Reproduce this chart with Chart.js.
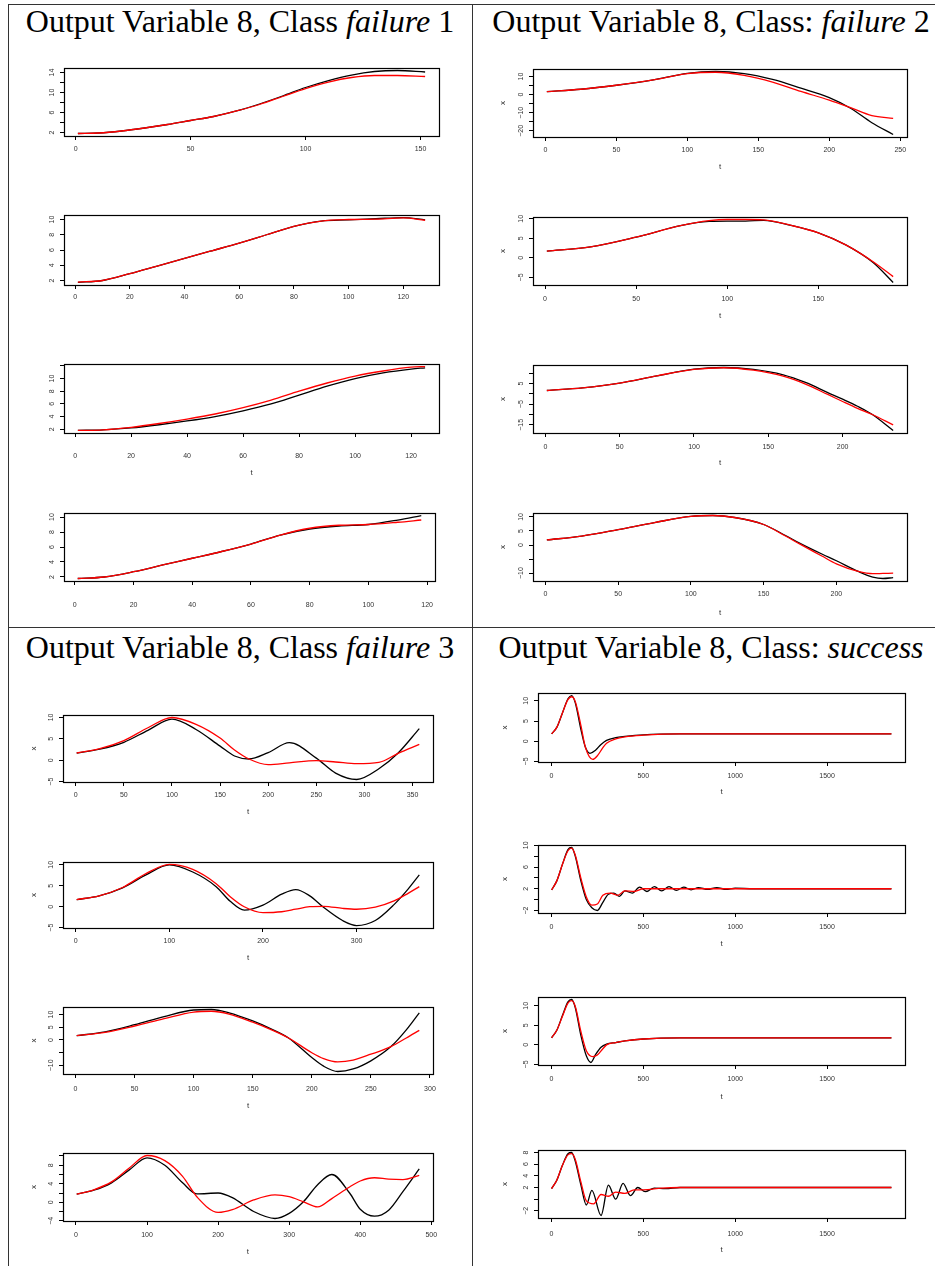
<!DOCTYPE html>
<html lang="en">
<head>
<meta charset="UTF-8">
<title>Output Variable 8</title>
<script src="https://cdn.jsdelivr.net/npm/chart.js"></script>
<style>
  body { margin: 0; background: #fff; }
  #page { position: relative; width: 935px; height: 1266px; overflow: hidden; background: #fff; }
  .rule { position: absolute; background: #333; }
  .title {
    position: absolute; text-align: center; white-space: nowrap;
    font-family: "Liberation Serif", "DejaVu Serif", serif; font-size: 32px; line-height: 1; color: #000;
  }
  canvas { position: absolute; }
</style>
</head>
<body>
<div id="page">
  <div class="rule" style="left:8px;top:4px;width:927px;height:1px"></div>
  <div class="rule" style="left:8px;top:4px;width:1px;height:1262px"></div>
  <div class="rule" style="left:472px;top:4px;width:1px;height:1262px"></div>
  <div class="rule" style="left:8px;top:627px;width:927px;height:1px"></div>
  <div class="title" style="left:8px;top:5px;width:464px">Output Variable 8, Class <i>failure</i> 1</div>
  <div class="title" style="left:480px;top:5px;width:462px">Output Variable 8, Class: <i>failure</i> 2</div>
  <div class="title" style="left:8px;top:631px;width:464px">Output Variable 8, Class <i>failure</i> 3</div>
  <div class="title" style="left:480px;top:631px;width:462px">Output Variable 8, Class: <i>success</i></div>
</div>

<script>
  // ---- failure 1 ----
  const f1a_t = [1, 10, 20, 30, 40, 50, 60, 70, 80, 90, 100, 110, 120, 130, 140, 152];
  const f1a_black = [1.8, 1.9, 2.3, 2.9, 3.6, 4.4, 5.2, 6.3, 7.7, 9.3, 11.0, 12.4, 13.5, 14.2, 14.4, 14.1];
  const f1a_red = [1.8, 1.9, 2.3, 2.9, 3.6, 4.4, 5.2, 6.3, 7.6, 9.2, 10.8, 12.1, 13.0, 13.4, 13.4, 13.2];
  const f1a_xticks = [0, 50, 100, 150];
  const f1a_yticks = [2, 4, 6, 8, 10, 12, 14];
  const f1a_ylabels = ['2', '', '6', '', '10', '', '14'];

  const f1b_t = [1, 10, 20, 30, 40, 50, 60, 70, 80, 90, 100, 110, 120, 128];
  const f1b_black = [1.75, 2.0, 2.9, 3.9, 4.9, 5.9, 6.9, 8.0, 9.1, 9.8, 9.95, 10.1, 10.25, 9.95];
  const f1b_red = [1.8, 2.0, 2.9, 3.9, 4.9, 5.9, 6.9, 8.0, 9.1, 9.8, 10.0, 10.05, 10.2, 9.9];
  const f1b_xticks = [0, 20, 40, 60, 80, 100, 120];
  const f1b_yticks = [2, 4, 6, 8, 10];
  const f1b_ylabels = ['2', '4', '6', '8', '10'];

  const f1c_t = [1, 10, 20, 30, 40, 50, 60, 70, 80, 90, 100, 110, 120, 125];
  const f1c_black = [1.8, 1.9, 2.2, 2.7, 3.3, 4.0, 4.9, 6.0, 7.4, 8.8, 10.0, 10.9, 11.5, 11.7];
  const f1c_red = [1.8, 1.9, 2.3, 2.9, 3.6, 4.4, 5.4, 6.6, 8.0, 9.3, 10.4, 11.2, 11.8, 11.9];
  const f1c_xticks = [0, 20, 40, 60, 80, 100, 120];
  const f1c_yticks = [2, 4, 6, 8, 10, 12];
  const f1c_ylabels = ['2', '4', '6', '8', '10', ''];

  const f1d_t = [1, 10, 20, 30, 40, 50, 60, 70, 80, 90, 100, 110, 118];
  const f1d_black = [1.8, 2.0, 2.7, 3.6, 4.5, 5.4, 6.4, 7.6, 8.4, 8.8, 9.0, 9.6, 10.2];
  const f1d_red = [1.8, 2.0, 2.7, 3.6, 4.5, 5.4, 6.4, 7.6, 8.5, 8.9, 9.0, 9.3, 9.6];
  const f1d_xticks = [0, 20, 40, 60, 80, 100, 120];
  const f1d_yticks = [2, 4, 6, 8, 10];
  const f1d_ylabels = ['2', '4', '6', '8', '10'];

  // ---- failure 2 ----
  const f2a_t = [1, 25, 50, 75, 100, 120, 140, 160, 180, 200, 215, 230, 245];
  const f2a_black = [1.7, 3.0, 5.2, 8.0, 11.8, 12.8, 11.6, 8.4, 3.6, -1.6, -7.5, -15.5, -22.0];
  const f2a_red = [1.7, 3.0, 5.2, 8.0, 11.6, 12.4, 10.7, 7.0, 1.8, -3.0, -7.2, -11.6, -13.1];
  const f2a_xticks = [0, 50, 100, 150, 200, 250];
  const f2a_yticks = [-20, -15, -10, -5, 0, 5, 10];
  const f2a_ylabels = ['\u221220', '', '\u221210', '', '0', '', '10'];

  const f2b_t = [1, 25, 50, 75, 90, 100, 110, 120, 135, 150, 165, 180, 191];
  const f2b_black = [1.7, 2.8, 5.3, 8.3, 9.3, 9.4, 9.4, 9.6, 8.3, 6.4, 3.3, -1.2, -6.3];
  const f2b_red = [1.7, 2.8, 5.3, 8.3, 9.5, 9.8, 9.8, 9.7, 8.3, 6.4, 3.3, -1.0, -4.8];
  const f2b_xticks = [0, 50, 100, 150];
  const f2b_yticks = [-5, 0, 5, 10];
  const f2b_ylabels = ['\u22125', '0', '5', '10'];

  const f2c_t = [1, 25, 50, 75, 100, 120, 140, 160, 175, 190, 200, 210, 220, 234];
  const f2c_black = [1.6, 2.9, 5.2, 8.7, 11.9, 12.7, 11.8, 9.2, 5.5, 0.6, -2.6, -6.0, -10.0, -17.7];
  const f2c_red = [1.6, 2.9, 5.2, 8.7, 11.8, 12.6, 11.4, 8.5, 4.7, -0.3, -3.7, -7.0, -10.0, -15.0];
  const f2c_xticks = [0, 50, 100, 150, 200];
  const f2c_yticks = [-15, -10, -5, 0, 5, 10];
  const f2c_ylabels = ['\u221215', '', '\u22125', '', '5', ''];

  const f2d_t = [1, 25, 50, 75, 100, 115, 130, 150, 165, 175, 190, 200, 215, 225, 232, 239];
  const f2d_black = [1.8, 3.2, 5.5, 8.0, 10.2, 10.5, 9.8, 7.3, 3.4, 0.6, -3.2, -5.6, -9.4, -11.4, -11.9, -11.6];
  const f2d_red = [1.8, 3.2, 5.5, 8.0, 10.2, 10.5, 9.8, 7.3, 3.2, 0.3, -3.9, -6.7, -9.4, -10.2, -10.1, -10.0];
  const f2d_xticks = [0, 50, 100, 150, 200];
  const f2d_yticks = [-10, -5, 0, 5, 10];
  const f2d_ylabels = ['\u221210', '', '0', '5', '10'];

  // ---- failure 3 ----
  const f3a_t = [1, 25, 50, 75, 100, 125, 150, 165, 180, 200, 222, 250, 270, 292, 315, 335, 357];
  const f3a_black = [1.7, 2.6, 4.2, 7.0, 9.6, 7.2, 3.3, 1.0, 0.3, 1.8, 4.1, 0.5, -3.0, -4.5, -2.0, 1.7, 7.4];
  const f3a_red = [1.7, 2.7, 4.6, 7.6, 10.0, 8.4, 5.2, 2.4, 0.3, -1.0, -0.6, -0.1, -0.4, -0.8, -0.5, 1.6, 3.7];
  const f3a_xticks = [0, 50, 100, 150, 200, 250, 300, 350];
  const f3a_yticks = [-5, 0, 5, 10];
  const f3a_ylabels = ['\u22125', '0', '5', '10'];

  const f3b_t = [1, 25, 50, 75, 100, 125, 150, 165, 180, 200, 220, 235, 250, 265, 285, 300, 320, 340, 355, 367];
  const f3b_black = [1.7, 2.6, 4.5, 7.6, 10.0, 8.3, 4.8, 1.3, -0.8, 0.4, 3.0, 4.1, 2.6, -0.2, -3.3, -4.5, -3.3, 0.5, 4.2, 7.6];
  const f3b_red = [1.7, 2.6, 4.6, 7.9, 10.1, 8.9, 5.5, 2.4, 0.0, -1.4, -1.2, -0.6, 0.0, 0.1, -0.4, -0.6, -0.1, 1.4, 3.2, 4.8];
  const f3b_xticks = [0, 100, 200, 300];
  const f3b_yticks = [-5, 0, 5, 10];
  const f3b_ylabels = ['\u22125', '0', '5', '10'];

  const f3c_t = [1, 25, 50, 75, 100, 115, 130, 150, 165, 180, 200, 210, 222, 235, 250, 267, 280, 291];
  const f3c_black = [1.7, 3.2, 6.0, 9.2, 11.8, 12.0, 10.7, 7.5, 4.5, 0.9, -6.9, -10.3, -12.4, -11.4, -8.2, -2.6, 4.0, 10.7];
  const f3c_red = [1.7, 3.0, 5.5, 8.4, 11.0, 11.3, 10.2, 7.0, 4.2, 0.9, -5.0, -7.3, -8.6, -7.9, -5.6, -2.6, 0.8, 3.8];
  const f3c_xticks = [0, 50, 100, 150, 200, 250, 300];
  const f3c_yticks = [-10, -5, 0, 5, 10];
  const f3c_ylabels = ['\u221210', '', '0', '5', '10'];

  const f3d_t = [1, 25, 50, 75, 100, 125, 150, 170, 200, 220, 250, 280, 300, 320, 340, 360, 385, 400, 420, 440, 460, 483];
  const f3d_black = [1.75, 2.6, 4.2, 7.0, 9.6, 8.0, 4.2, 1.8, 2.0, 1.0, -2.0, -3.5, -2.4, 0.1, 3.8, 6.0, 2.0, -1.5, -3.0, -1.7, 2.3, 7.2];
  const f3d_red = [1.75, 2.7, 4.4, 7.4, 10.1, 9.0, 5.6, 1.2, -2.2, -1.6, 0.5, 1.6, 1.2, 0.1, -1.0, 0.8, 3.3, 4.6, 5.3, 5.0, 4.9, 5.8];
  const f3d_xticks = [0, 100, 200, 300, 400, 500];
  const f3d_yticks = [-4, -2, 0, 2, 4, 6, 8, 10];
  const f3d_ylabels = ['\u22124', '', '0', '', '4', '', '8', ''];

  // ---- success ----
  const s_a_tb = [1, 30, 60, 90, 110, 130, 160, 185, 210, 240, 270, 300, 350, 400, 500, 700, 1000, 1850];
  const s_a_black = [1.8, 3.5, 7.0, 10.5, 11.3, 9.5, 3.0, -1.5, -3.0, -2.2, -0.8, 0.2, 0.9, 1.2, 1.6, 1.8, 1.8, 1.8];
  const s_a_tr = [1, 30, 60, 90, 110, 130, 160, 185, 225, 250, 280, 300, 350, 400, 500, 700, 1000, 1850];
  const s_a_red = [1.8, 3.5, 7.0, 10.3, 11.0, 9.8, 4.0, -1.5, -4.5, -3.6, -1.6, -0.5, 0.6, 1.1, 1.5, 1.8, 1.8, 1.8];
  const s_a_yticks = [-5, 0, 5, 10];
  const s_a_ylabels = ['\u22125', '0', '5', '10'];

  const s_b_tb = [1, 30, 60, 90, 110, 130, 160, 190, 220, 250, 280, 310, 340, 370, 400, 440, 480, 520, 560, 600,
                  640, 680, 720, 760, 800, 850, 900, 950, 1000, 1100, 1850];
  const s_b_black = [1.8, 3.5, 6.5, 9.2, 9.6, 8.0, 3.5, 0.0, -1.5, -2.0, -0.5, 1.0, 1.2, 0.6, 1.6, 1.2, 2.3, 1.5, 2.4, 1.6,
                     2.4, 1.7, 2.3, 1.8, 2.2, 1.9, 2.2, 1.9, 2.1, 2.0, 2.0];
  const s_b_tr = [1, 30, 60, 90, 110, 130, 160, 190, 220, 250, 280, 320, 360, 400, 450, 500, 600, 700, 1000, 1850];
  const s_b_red = [1.8, 3.5, 6.5, 9.0, 9.5, 8.2, 4.0, 0.5, -1.0, -0.8, 0.8, 1.2, 0.8, 1.6, 1.5, 2.0, 2.0, 2.0, 2.0, 2.0];
  const s_b_yticks = [-2, 0, 2, 4, 6, 8, 10];
  const s_b_ylabels = ['\u22122', '', '2', '', '6', '', '10'];

  const s_c_tb = [1, 30, 60, 90, 110, 130, 160, 190, 215, 240, 270, 300, 350, 400, 500, 700, 1000, 1850];
  const s_c_black = [1.8, 3.8, 7.5, 11.0, 11.6, 9.5, 2.5, -2.8, -4.5, -2.5, -0.6, 0.2, 0.6, 1.0, 1.5, 1.8, 1.8, 1.8];
  const s_c_tr = [1, 30, 60, 90, 110, 130, 160, 190, 225, 250, 280, 300, 350, 400, 500, 700, 1000, 1850];
  const s_c_red = [1.8, 3.8, 7.3, 10.7, 11.3, 9.8, 3.5, -1.5, -3.0, -2.6, -1.0, 0.0, 0.6, 1.0, 1.5, 1.8, 1.8, 1.8];
  const s_c_yticks = [-5, 0, 5, 10];
  const s_c_ylabels = ['\u22125', '0', '5', '10'];

  const s_d_tb = [1, 30, 60, 90, 110, 130, 160, 190, 220, 270, 310, 350, 390, 430, 470, 510, 560, 620, 700, 1000, 1850];
  const s_d_black = [1.8, 3.3, 5.8, 7.8, 8.0, 6.5, 2.5, -1.0, 1.5, -2.8, 2.4, 0.0, 2.7, 0.6, 2.0, 1.3, 1.9, 1.8, 2.0, 2.0, 2.0];
  const s_d_tr = [1, 30, 60, 90, 110, 130, 160, 190, 230, 270, 310, 350, 400, 450, 500, 600, 700, 1000, 1850];
  const s_d_red = [1.8, 3.3, 5.8, 7.6, 7.8, 6.8, 3.0, -0.3, -0.8, 0.8, 0.5, 1.2, 1.0, 1.6, 1.6, 1.9, 2.0, 2.0, 2.0];
  const s_d_yticks = [-2, 0, 2, 4, 6, 8];
  const s_d_ylabels = ['\u22122', '', '2', '4', '6', '8'];

  const s_xticks = [0, 500, 1000, 1500];

  // panel placement: box = [left, top, right, bottom] of the plot frame on the page
  const panels = [
    { tb: f1a_t, black: f1a_black, tr: f1a_t, red: f1a_red, xt: f1a_xticks, yt: f1a_yticks, yl: f1a_ylabels, box: [64, 68, 439, 136], lab: 13 },
    { tb: f1b_t, black: f1b_black, tr: f1b_t, red: f1b_red, xt: f1b_xticks, yt: f1b_yticks, yl: f1b_ylabels, box: [64, 215, 439, 285], lab: 12 },
    { tb: f1c_t, black: f1c_black, tr: f1c_t, red: f1c_red, xt: f1c_xticks, yt: f1c_yticks, yl: f1c_ylabels, box: [64, 364, 439, 433], lab: 23, tlab: 40 },
    { tb: f1d_t, black: f1d_black, tr: f1d_t, red: f1d_red, xt: f1d_xticks, yt: f1d_yticks, yl: f1d_ylabels, box: [64, 513, 439, 581], lab: 24 },

    { tb: f2a_t, black: f2a_black, tr: f2a_t, red: f2a_red, xt: f2a_xticks, yt: f2a_yticks, yl: f2a_ylabels, box: [533, 69, 907, 137], lab: 13, tlab: 30, xlab: 30 },
    { tb: f2b_t, black: f2b_black, tr: f2b_t, red: f2b_red, xt: f2b_xticks, yt: f2b_yticks, yl: f2b_ylabels, box: [533, 217, 907, 285], lab: 14, tlab: 31, xlab: 30 },
    { tb: f2c_t, black: f2c_black, tr: f2c_t, red: f2c_red, xt: f2c_xticks, yt: f2c_yticks, yl: f2c_ylabels, box: [533, 365, 907, 433], lab: 14, tlab: 30, xlab: 30 },
    { tb: f2d_t, black: f2d_black, tr: f2d_t, red: f2d_red, xt: f2d_xticks, yt: f2d_yticks, yl: f2d_ylabels, box: [533, 513, 907, 581], lab: 13, tlab: 32, xlab: 30 },

    { tb: f3a_t, black: f3a_black, tr: f3a_t, red: f3a_red, xt: f3a_xticks, yt: f3a_yticks, yl: f3a_ylabels, box: [63, 715, 433, 782], lab: 13, tlab: 30, xlab: 29 },
    { tb: f3b_t, black: f3b_black, tr: f3b_t, red: f3b_red, xt: f3b_xticks, yt: f3b_yticks, yl: f3b_ylabels, box: [63, 862, 433, 928], lab: 13, tlab: 30, xlab: 29 },
    { tb: f3c_t, black: f3c_black, tr: f3c_t, red: f3c_red, xt: f3c_xticks, yt: f3c_yticks, yl: f3c_ylabels, box: [63, 1007, 433, 1074], lab: 15, tlab: 32, xlab: 29 },
    { tb: f3d_t, black: f3d_black, tr: f3d_t, red: f3d_red, xt: f3d_xticks, yt: f3d_yticks, yl: f3d_ylabels, box: [63, 1153, 433, 1221], lab: 14, tlab: 31, xlab: 29 },

    { tb: s_a_tb, black: s_a_black, tr: s_a_tr, red: s_a_red, xt: s_xticks, yt: s_a_yticks, yl: s_a_ylabels, box: [538, 693, 905, 762], lab: 14, tlab: 30, xlab: 33 },
    { tb: s_b_tb, black: s_b_black, tr: s_b_tr, red: s_b_red, xt: s_xticks, yt: s_b_yticks, yl: s_b_ylabels, box: [538, 845, 905, 913], lab: 14, tlab: 31, xlab: 33 },
    { tb: s_c_tb, black: s_c_black, tr: s_c_tr, red: s_c_red, xt: s_xticks, yt: s_c_yticks, yl: s_c_ylabels, box: [538, 997, 905, 1065], lab: 14, tlab: 32, xlab: 33 },
    { tb: s_d_tb, black: s_d_black, tr: s_d_tr, red: s_d_red, xt: s_xticks, yt: s_d_yticks, yl: s_d_ylabels, box: [538, 1150, 905, 1218], lab: 16, tlab: 32, xlab: 33 }
  ];

  const PADL = 50, PADT = 8, PADR = 10, PADB = 46;
  const TICK = 4;
  const SMALL = '7px "Liberation Sans", Arial, sans-serif';

  // R-style frame, rotated y labels and axis names
  const rAxis = {
    id: 'rAxis',
    afterDraw(chart, args, o) {
      const { ctx, chartArea: a } = chart;
      const y = chart.scales.y;
      ctx.save();
      ctx.strokeStyle = '#000';
      ctx.lineWidth = 1.2;
      ctx.strokeRect(Math.round(a.left) + 0.5, Math.round(a.top) + 0.5, Math.round(a.right - a.left), Math.round(a.bottom - a.top));
      ctx.fillStyle = '#333';
      ctx.font = SMALL;
      ctx.textAlign = 'center';
      ctx.textBaseline = 'middle';
      y.ticks.forEach((tk, i) => {
        const lbl = o.labels[i];
        if (!lbl) return;
        ctx.save();
        ctx.translate(a.left - 12, y.getPixelForValue(tk.value));
        ctx.rotate(-Math.PI / 2);
        ctx.fillText(lbl, 0, 0);
        ctx.restore();
      });
      ctx.font = '8px "Liberation Sans", Arial, sans-serif';
      if (o.tlab) ctx.fillText('t', (a.left + a.right) / 2, a.bottom + o.tlab);
      if (o.xlab) {
        ctx.save();
        ctx.translate(a.left - o.xlab, (a.top + a.bottom) / 2);
        ctx.rotate(-Math.PI / 2);
        ctx.fillText('x', 0, 0);
        ctx.restore();
      }
      ctx.restore();
    }
  };

  const page = document.getElementById('page');

  panels.forEach(p => {
    const [L, T, R, B] = p.box;
    const cv = document.createElement('canvas');
    cv.width = R - L + PADL + PADR;
    cv.height = B - T + PADT + PADB;
    cv.style.left = (L - PADL) + 'px';
    cv.style.top = (T - PADT) + 'px';
    page.appendChild(cv);

    // R default axis range: data range widened by 4% on each side
    const ys = p.black.concat(p.red);
    const ylo = Math.min(...ys), yhi = Math.max(...ys);
    const tlo = Math.min(p.tb[0], p.tr[0]);
    const thi = Math.max(p.tb[p.tb.length - 1], p.tr[p.tr.length - 1]);
    const yp = (yhi - ylo) * 0.04, tp = (thi - tlo) * 0.04;

    const pts = (t, v) => t.map((tv, i) => ({ x: tv, y: v[i] }));

    new Chart(cv, {
      type: 'line',
      data: {
        datasets: [
          { data: pts(p.tr, p.red), borderColor: '#ff0000', borderWidth: 1.3, pointRadius: 0, cubicInterpolationMode: 'monotone' },
          { data: pts(p.tb, p.black), borderColor: '#000000', borderWidth: 1.3, pointRadius: 0, cubicInterpolationMode: 'monotone' }
        ]
      },
      options: {
        responsive: false,
        animation: false,
        devicePixelRatio: 1,
        events: [],
        layout: { padding: { left: 0, top: PADT, right: PADR, bottom: 0 } },
        plugins: {
          legend: { display: false },
          tooltip: { enabled: false },
          rAxis: { labels: p.yl, tlab: p.tlab, xlab: p.xlab }
        },
        scales: {
          x: {
            type: 'linear',
            min: tlo - tp,
            max: thi + tp,
            afterBuildTicks: s => { s.ticks = p.xt.map(v => ({ value: v })); },
            afterFit: s => { s.height = PADB; },
            grid: { drawOnChartArea: false, drawTicks: true, tickLength: TICK, color: '#000' },
            border: { display: false },
            ticks: {
              autoSkip: false, maxRotation: 0, color: '#333',
              padding: p.lab - TICK - 4.2,
              font: { family: '"Liberation Sans", Arial, sans-serif', size: 7 },
              callback: v => String(v)
            }
          },
          y: {
            type: 'linear',
            min: ylo - yp,
            max: yhi + yp,
            afterBuildTicks: s => { s.ticks = p.yt.map(v => ({ value: v })); },
            afterFit: s => { s.width = PADL; },
            grid: { drawOnChartArea: false, drawTicks: true, tickLength: TICK, color: '#000' },
            border: { display: false },
            ticks: { display: false }
          }
        }
      },
      plugins: [rAxis]
    });
  });
</script>
</body>
</html>
